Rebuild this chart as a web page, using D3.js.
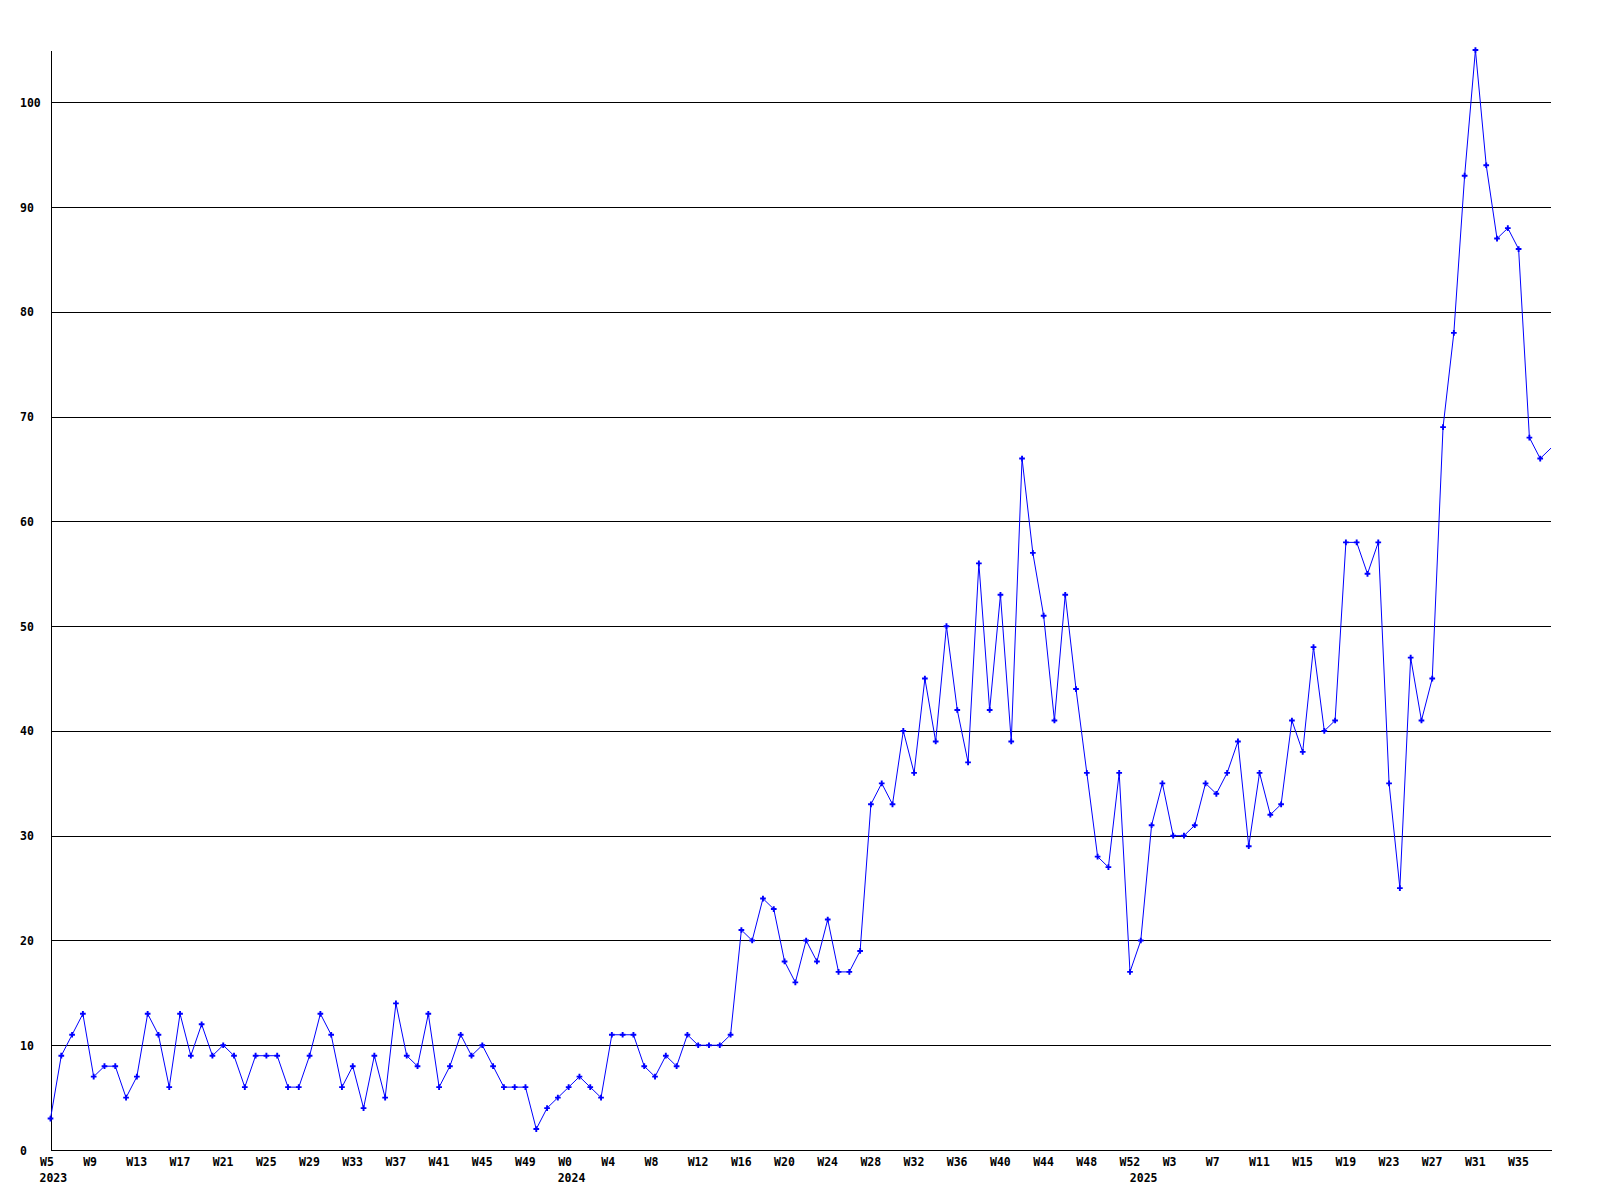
<!DOCTYPE html>
<html>
<head>
<meta charset="utf-8">
<script src="https://cdn.jsdelivr.net/npm/d3@7"></script>
<style>
  body { margin: 0; background: #fff; }
  svg { display: block; }
  text { font-family: "DejaVu Sans Mono", "Liberation Mono", monospace; font-weight: bold; font-size: 11.5px; fill: #000; }
</style>
</head>
<body>
<div id="chart"></div>
<script>
// weekly counts, 2023 W5 .. 2025 W38
var counts = [
  3, 9, 11, 13, 7, 8, 8, 5, 7, 13, 11, 6, 13, 9, 12, 9, 10, 9, 6, 9,
  9, 9, 6, 6, 9, 13, 11, 6, 8, 4, 9, 5, 14, 9, 8, 13, 6, 8, 11, 9,
  10, 8, 6, 6, 6, 2, 4, 5, 6, 7, 6, 5, 11, 11, 11, 8, 7, 9, 8, 11,
  10, 10, 10, 11, 21, 20, 24, 23, 18, 16, 20, 18, 22, 17, 17, 19, 33, 35, 33, 40,
  36, 45, 39, 50, 42, 37, 56, 42, 53, 39, 66, 57, 51, 41, 53, 44, 36, 28, 27, 36,
  17, 20, 31, 35, 30, 30, 31, 35, 34, 36, 39, 29, 36, 32, 33, 41, 38, 48, 40, 41,
  58, 58, 55, 58, 35, 25, 47, 41, 45, 69, 78, 93, 105, 94, 87, 88, 86, 68, 66, 67
];

var weekLabels = ['W5', 'W9', 'W13', 'W17', 'W21', 'W25', 'W29', 'W33', 'W37', 'W41', 'W45', 'W49',
  'W0', 'W4', 'W8', 'W12', 'W16', 'W20', 'W24', 'W28', 'W32', 'W36', 'W40', 'W44', 'W48', 'W52',
  'W3', 'W7', 'W11', 'W15', 'W19', 'W23', 'W27', 'W31', 'W35'];
var weekTickIdx = weekLabels.map(function(d, i) { return i * 4; });

var yearLabels = ['2023', '2024', '2025'];
var yearTickIdx = [0, 48, 101];

var yTicks = [0, 10, 20, 30, 40, 50, 60, 70, 80, 90, 100];

var width = 1600,
    height = 1200,
    plotLeft = 50.5,
    plotRight = 1551,
    plotTop = 50,
    plotBottom = 1150;

var svg = d3.select('#chart').append('svg')
  .attr('width', width)
  .attr('height', height);

svg.append('rect')
  .attr('width', width)
  .attr('height', height)
  .attr('fill', '#fff');

var x = d3.scaleLinear()
  .domain([0, counts.length - 1])
  .range([plotLeft, plotRight]);

var y = d3.scaleLinear()
  .domain([0, 105])
  .range([plotBottom, plotTop]);

// y axis + horizontal grid
var yAxis = d3.axisLeft(y)
  .tickValues(yTicks)
  .tickSizeInner(-(plotRight - plotLeft))
  .tickSizeOuter(0)
  .tickFormat(d3.format('d'));

var yAxisGroup = svg.append('g')
  .attr('transform', 'translate(' + plotLeft + ',0)')
  .call(yAxis);

yAxisGroup.selectAll('line, path')
  .attr('stroke', '#000')
  .attr('shape-rendering', 'crispEdges');
yAxisGroup.selectAll('text')
  .attr('x', 20 - plotLeft)
  .attr('dy', 4)
  .attr('text-anchor', 'start')
  .attr('font-family', null)
  .attr('font-size', null);

// x axis with week labels
var xAxis = d3.axisBottom(x)
  .tickValues(weekTickIdx)
  .tickSize(0)
  .tickFormat(function(d, i) { return weekLabels[i]; });

var xAxisGroup = svg.append('g')
  .attr('transform', 'translate(0,' + plotBottom + ')')
  .call(xAxis);

xAxisGroup.select('.domain')
  .attr('stroke', '#000')
  .attr('shape-rendering', 'crispEdges');
xAxisGroup.selectAll('text')
  .attr('x', -11)
  .attr('y', 16)
  .attr('dy', 0)
  .attr('text-anchor', 'start')
  .attr('font-family', null)
  .attr('font-size', null);

// year labels under the first week of each year
svg.append('g').selectAll('text')
  .data(yearLabels)
  .enter()
  .append('text')
  .attr('x', function(d, i) { return x(yearTickIdx[i]) - 11; })
  .attr('y', plotBottom + 32)
  .text(function(d) { return d; });

// the series
var line = d3.line()
  .x(function(d, i) { return x(i); })
  .y(function(d) { return y(d); });

svg.append('path')
  .datum(counts)
  .attr('fill', 'none')
  .attr('stroke', '#0000ff')
  .attr('stroke-width', 1)
  .attr('d', line);

// markers (last one falls on the plot edge and is not drawn)
var marker = d3.symbol().type(d3.symbolCross).size(18);

svg.append('g').selectAll('path')
  .data(counts.slice(0, -1))
  .enter()
  .append('path')
  .attr('d', marker)
  .attr('fill', '#0000ff')
  .attr('transform', function(d, i) {
    return 'translate(' + x(i) + ',' + y(d) + ')';
  });
</script>
</body>
</html>
